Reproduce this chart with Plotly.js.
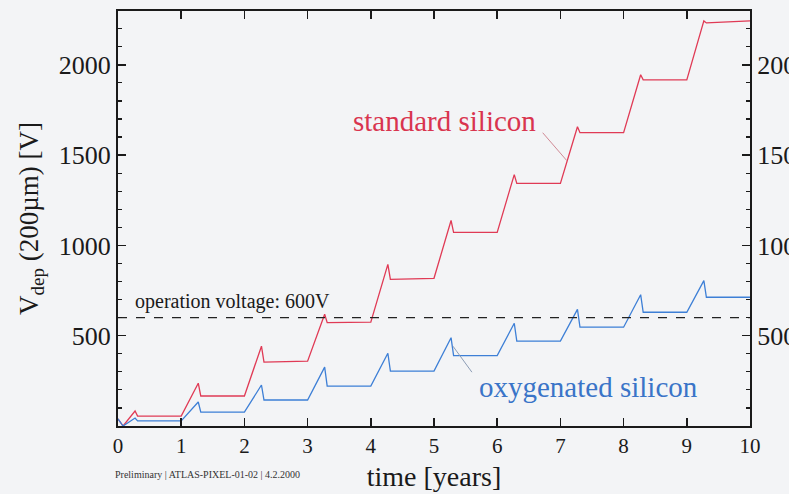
<!DOCTYPE html>
<html><head><meta charset="utf-8">
<script src="https://cdn.plot.ly/plotly-3.0.1.min.js"></script>
<style>html,body{margin:0;padding:0;background:#f3f4f6;}#plot{width:789px;height:494px;}</style>
</head><body><div id="plot"></div>
<script>
// time in years
const time = [0, 0.08, 0.27, 0.31, 1.0, 1.27, 1.31, 2.0, 2.27, 2.31, 3.0, 3.27, 3.31, 4.0, 4.27, 4.31, 5.0, 5.27, 5.31, 6.0, 6.27, 6.31, 7.0, 7.27, 7.31, 8.0, 8.27, 8.31, 9.0, 9.27, 9.31, 10.0];
// depletion voltage [V], standard silicon
const standardSilicon = [40, 0, 83, 55, 55, 237, 166, 166, 442, 354, 359, 619, 572, 575, 895, 812, 818, 1138, 1072, 1072, 1392, 1343, 1343, 1657, 1624, 1624, 1945, 1917, 1917, 2243, 2232, 2243];
// depletion voltage [V], oxygenated silicon
const oxygenatedSilicon = [40, 0, 44, 28, 28, 133, 77, 77, 227, 144, 144, 326, 221, 221, 403, 304, 304, 489, 390, 390, 569, 470, 470, 646, 547, 547, 727, 630, 630, 805, 713, 713];
const operationVoltage = 600;
const xTicks = [0,1,2,3,4,5,6,7,8,9,10];
const yTicks = [500, 1000, 1500, 2000];

const serif = 'Liberation Serif, Times New Roman, serif';
const red = '#e03a55', blue = '#3d7fd6';

const traces = [
  {x: time, y: standardSilicon, mode: 'lines', line: {color: red, width: 1.3}, name: 'standard silicon', hoverinfo: 'skip'},
  {x: time, y: oxygenatedSilicon, mode: 'lines', line: {color: blue, width: 1.3}, name: 'oxygenated silicon', hoverinfo: 'skip'},
  {x: [xTicks[0], xTicks[xTicks.length-1]], y: [operationVoltage, operationVoltage], mode: 'lines', line: {color: '#222', width: 1.3, dash: 'dash'}, hoverinfo: 'skip'},
  {x: [0], y: [0], yaxis: 'y2', mode: 'markers', marker: {opacity: 0}, hoverinfo: 'skip'}
];

const yRange = [0, 2298];
const axisCommon = {
  showgrid: false, zeroline: false, showline: true, linecolor: '#1a1a1a', linewidth: 2,
  ticks: 'inside', ticklen: 8, tickwidth: 1.5, tickcolor: '#1a1a1a',
  tickfont: {family: serif, size: 26, color: '#1a1a1a'}
};

const layout = {
  width: 789, height: 494,
  margin: {l: 118, r: 39, t: 11, b: 68},
  paper_bgcolor: '#f3f4f6', plot_bgcolor: '#f3f4f6',
  showlegend: false,
  xaxis: Object.assign({}, axisCommon, {
    range: [0, 10], tickvals: xTicks, mirror: 'ticks',
    tickfont: {family: serif, size: 21, color: '#1a1a1a'},
    title: {text: 'time [years]', font: {family: serif, size: 28, color: '#1a1a1a'}, standoff: 9}
  }),
  yaxis: Object.assign({}, axisCommon, {
    range: yRange, tickvals: yTicks,
    minor: {dtick: 100, ticks: 'inside', ticklen: 4, tickwidth: 1.2, tickcolor: '#1a1a1a'},
    title: {text: 'V<sub>dep</sub> (200µm) [V]', font: {family: serif, size: 27, color: '#1a1a1a'}, standoff: 12}
  }),
  yaxis2: Object.assign({}, axisCommon, {
    range: yRange, tickvals: yTicks, overlaying: 'y', side: 'right',
    minor: {dtick: 100, ticks: 'inside', ticklen: 4, tickwidth: 1.2, tickcolor: '#1a1a1a'}
  }),
  shapes: [
    {type: 'line', xref: 'x', yref: 'y', x0: 6.72, y0: 1624, x1: 7.10, y1: 1470, line: {color: '#d08a95', width: 1}},
    {type: 'line', xref: 'x', yref: 'y', x0: 5.30, y0: 442, x1: 5.60, y1: 298, line: {color: '#8c9cb5', width: 1}}
  ],
  annotations: [
    {x: 5.16, y: 1690, xref: 'x', yref: 'y', text: 'standard silicon', showarrow: false, font: {family: serif, size: 29, color: '#d9344f'}},
    {x: 7.44, y: 215, xref: 'x', yref: 'y', text: 'oxygenated silicon', showarrow: false, font: {family: serif, size: 29, color: '#3a74c8'}},
    {x: 0.24, y: 690, xref: 'x', yref: 'y', xanchor: 'left', text: 'operation voltage: 600V', showarrow: false, font: {family: serif, size: 20, color: '#1a1a1a'}},
    {x: -0.008, y: -0.116, xref: 'paper', yref: 'paper', xanchor: 'left', yanchor: 'middle', text: 'Preliminary | ATLAS-PIXEL-01-02 | 4.2.2000', showarrow: false, font: {family: serif, size: 10, color: '#333'}}
  ]
};

Plotly.newPlot('plot', traces, layout, {staticPlot: true, displayModeBar: false});
</script></body></html>
